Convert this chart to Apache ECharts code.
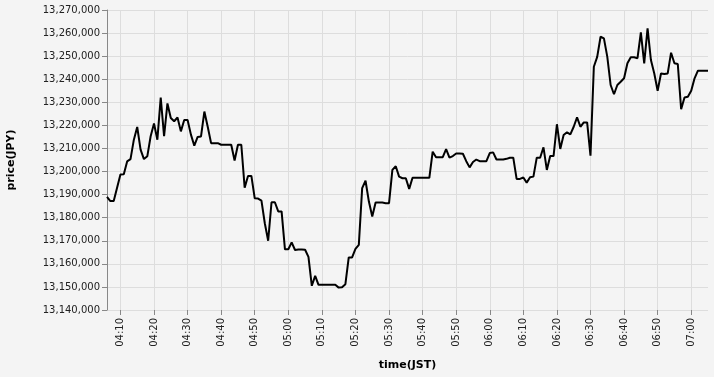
<!DOCTYPE html>
<html>
<head>
<meta charset="utf-8">
<script src="https://cdn.jsdelivr.net/npm/echarts@6/dist/echarts.min.js"></script>
<style>
html,body{margin:0;padding:0;background:#f4f4f4;}
#chart{width:714px;height:377px;}
</style>
</head>
<body>
<div id="chart"></div>
<script>
// first timestamp 04:06 JST, one point per minute
const startMinute = 4 * 60 + 6;
const prices = [
13189000,13187200,13187200,13193000,13198700,13198800,13204400,13205400,13213800,13219300,
13209500,13205400,13206600,13215300,13220800,13213800,13232000,13215300,13229500,13223200,
13221800,13223400,13217400,13222300,13222300,13216000,13211200,13215000,13215200,13226000,
13219400,13212300,13212300,13212300,13211600,13211600,13211600,13211600,13204800,13211600,
13211600,13193000,13198100,13198100,13188400,13188300,13187400,13177600,13170000,13186700,
13186700,13182700,13182700,13166300,13166300,13169300,13166000,13166200,13166200,13166100,
13163000,13150500,13154800,13150900,13150900,13150900,13150900,13150900,13150900,13149700,
13149900,13151200,13162800,13162800,13166500,13168200,13192800,13196000,13187000,13180500,
13186600,13186600,13186600,13186300,13186300,13200700,13202300,13197800,13197100,13197100,
13192500,13197300,13197300,13197300,13197300,13197300,13197300,13208600,13206200,13206200,
13206200,13209700,13206000,13206700,13207800,13207800,13207700,13204500,13201800,13204100,
13205200,13204500,13204500,13204500,13208000,13208300,13205200,13205200,13205200,13205500,
13206000,13206000,13196800,13196800,13197400,13195200,13197500,13197800,13206000,13206000,
13210500,13200700,13206700,13206700,13220500,13209800,13215800,13217000,13216100,13219400,
13223500,13219400,13221300,13221300,13206900,13245400,13249700,13258400,13257700,13249800,
13237500,13233500,13237500,13238900,13240400,13246900,13249500,13249500,13249100,13260300,
13246900,13262000,13248300,13242500,13235000,13242500,13242300,13242500,13251500,13246900,
13246600,13227000,13232100,13232400,13235000,13240400,13243700,13243700,13243700,13243700
];
const times = prices.map((_, i) => {
  const t = startMinute + i;
  const h = Math.floor(t / 60), m = t % 60;
  return String(h).padStart(2, '0') + ':' + String(m).padStart(2, '0');
});
const yMin = 13140000, yMax = 13270000, yStep = 10000;

const isTenMinute = (idx, val) => String(val).endsWith('0');
const chart = echarts.init(document.getElementById('chart'));
chart.setOption({
  animation: false,
  backgroundColor: '#f4f4f4',
  grid: {left: 107, right: 6, top: 10, bottom: 67, containLabel: false, outerBoundsMode: 'none'},
  xAxis: {
    type: 'category',
    data: times,
    boundaryGap: false,
    name: 'time(JST)',
    nameLocation: 'middle',
    nameGap: 50,
    nameTextStyle: {fontFamily: 'DejaVu Sans', fontSize: 11, fontWeight: 'bold', color: '#000'},
    axisLine: {show: false},
    axisTick: {show: true, interval: isTenMinute, length: 5, lineStyle: {color: '#888'}},
    axisLabel: {interval: isTenMinute, rotate: 90, margin: 8, fontFamily: 'DejaVu Sans', fontSize: 10, color: '#222'},
    splitLine: {show: true, interval: isTenMinute, lineStyle: {color: '#ddd', width: 1}}
  },
  yAxis: {
    type: 'value',
    min: yMin, max: yMax, interval: yStep,
    name: 'price(JPY)',
    nameLocation: 'middle',
    nameGap: 90,
    nameTextStyle: {fontFamily: 'DejaVu Sans', fontSize: 11, fontWeight: 'bold', color: '#000'},
    axisLine: {show: true, lineStyle: {color: '#888', width: 1}},
    axisTick: {show: true, length: 5, lineStyle: {color: '#888'}},
    axisLabel: {margin: 7, fontFamily: 'DejaVu Sans', fontSize: 10, color: '#222',
      formatter: v => v.toLocaleString('en-US')},
    splitLine: {show: true, lineStyle: {color: '#ddd', width: 1}}
  },
  series: [{
    type: 'line',
    data: prices,
    symbol: 'none',
    lineStyle: {color: '#000', width: 2},
    itemStyle: {color: '#000'}
  }]
});
</script>
</body>
</html>
